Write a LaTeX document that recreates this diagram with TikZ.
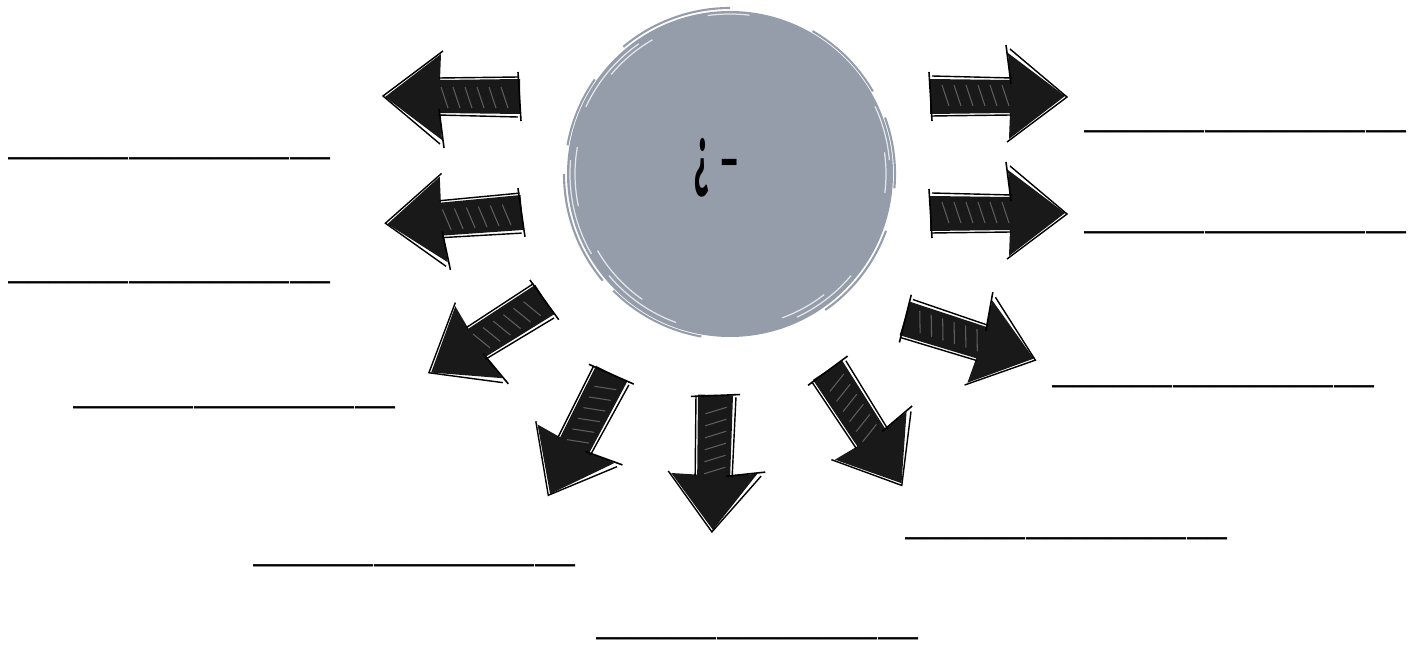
\documentclass[tikz,border=0pt]{standalone}
\usepackage{fontspec}
\setmainfont{Carlito}
\definecolor{gris}{RGB}{149,157,170}
\newcommand\blanco{\_\_\_\_\_\_\_\_\_\_\_\_\_\_\_\_}
\tikzset{
  flecha/.pic={
    \fill[black!90] (0,-17) -- (80,-16) -- (78,-43) -- (135,0) -- (79,43) -- (80,17) -- (0,18) -- cycle;
    \draw[black, line width=0.8pt] (2,-20) -- (82,-18) (1,20) -- (81,19) (80,-47) -- (137,1) -- (77,46);
    \foreach \s in {12,24,...,72}
      \draw[white, opacity=0.3, line width=0.6pt] (\s,-11) -- (\s+7,10);
    \draw[black, line width=0.9pt] (-1,-24) -- (2,25) (76,-51) -- (81,-12);
  },
  linea/.style={anchor=base west, inner sep=0pt, font=\fontsize{23}{23}\selectfont},
}
\begin{document}
\begin{tikzpicture}[x=0.02cm, y=-0.02cm]
  \useasboundingbox (0,0) rectangle (1421,645);
  % Círculo de pincel con la pregunta.
  \fill[gris] (730,174) circle[radius=163];
  \foreach \ang/\rad/\delta in {100/165/35, 140/166/40, 190/165/25, 230/166/40, 300/165/30, 20/166/35, 340/165/25} {
    \draw[gris, line width=1.2pt] (730,174) ++(\ang:\rad) arc[start angle=\ang, delta angle=\delta, radius=\rad];
  }
  \foreach \ang/\rad/\delta in {110/158/30, 125/153/25, 150/160/35, 168/155/22, 205/159/30, 220/155/20, 262/160/15, 40/158/25, 52/153/18, 335/160/20, 352/156/15} {
    \draw[white, opacity=0.75, line width=0.7pt] (730,174) ++(\ang:\rad) arc[start angle=\ang, delta angle=\delta, radius=\rad];
  }
  \node[font=\bfseries\fontsize{34}{34}\selectfont, inner sep=0pt] (pregunta) at (716,168)
    {\raisebox{-0.05em}{\scalebox{0.6}[1.5]{¿}}\,-};
  % Flechas dibujadas a mano alrededor del círculo.
  \foreach \x/\y/\giro in {520/97/180, 522/213/184.7, 545/300/212.5, 612/374/242.7, 716/395/268.7,
                           828/370/303, 905/318/342.5, 930/213/0, 930/96/0} {
    \pic[rotate=\giro] at (\x,\y) {flecha};
  }
  % Líneas para escribir.
  \foreach \n/\x/\y in {1/8/160, 2/8/284, 3/73/408, 4/253/566, 5/596/639,
                        6/905/539, 7/1052/387, 8/1084/234, 9/1084/133} {
    \node[linea] (linea\n) at (\x,\y-5) {\blanco};
  }
\end{tikzpicture}
\end{document}
